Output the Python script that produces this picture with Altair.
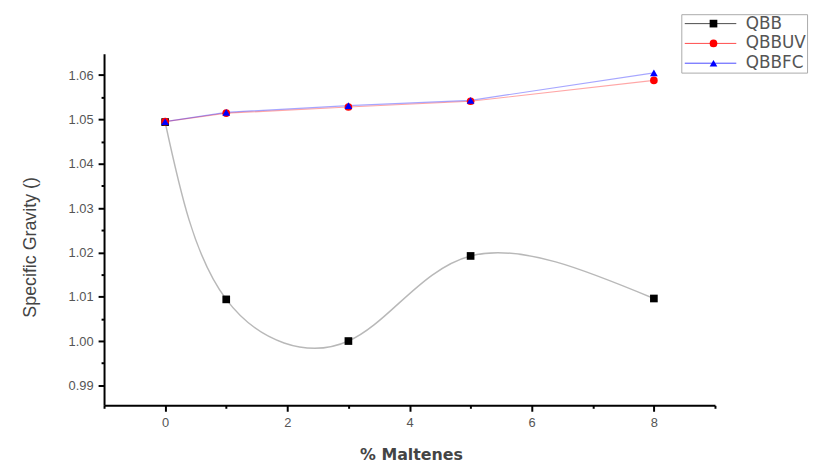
import altair as alt
import pandas as pd

x_vals = [0, 1, 3, 5, 8]
qbb = [1.0494, 1.0094, 1.0000, 1.0192, 1.0096]
qbbuv = [1.0495, 1.0514, 1.0528, 1.0541, 1.0588]
qbbfc = [1.0495, 1.0516, 1.0531, 1.0543, 1.0605]
series_names = ["QBB", "QBBUV", "QBBFC"]
series_colors = ["#000000", "#ff0000", "#0000ff"]
series_shapes = ["square", "circle", "triangle-up"]
x_tick_values = [-1, 0, 1, 2, 3, 4, 5, 6, 7, 8, 9]
y_tick_values = [0.99, 0.995, 1.00, 1.005, 1.01, 1.015, 1.02, 1.025, 1.03, 1.035,
                 1.04, 1.045, 1.05, 1.055, 1.06]

rows = []
for idx, (name, vals) in enumerate(zip(series_names, [qbb, qbbuv, qbbfc])):
    for xv, yv in zip(x_vals, vals):
        rows.append({"series": name, "series_p": name + " ", "rank": idx, "x": xv, "y": yv})
df = pd.DataFrame(rows)
point_names = [n + " " for n in series_names]

FONT = "Liberation Sans"

x_enc = alt.X(
    "x:Q",
    scale=alt.Scale(domain=[-1, 9], nice=False, zero=False),
    axis=alt.Axis(
        title="% Maltenes",
        values=x_tick_values,
        labelExpr="datum.value % 2 == 0 && datum.value >= 0 ? datum.label : ''",
        tickSize={"condition": {"test": "datum.value % 2 == 0", "value": 6}, "value": 3},
        grid=False,
        domainColor="#000",
        domainWidth=2,
        tickColor="#000",
        tickWidth=2,
        labelFont=FONT,
        labelFontSize=13,
        labelColor="#555",
        labelPadding=5,
        titleFont="DejaVu Sans",
        titleFontSize=16,
        titleFontWeight="bold",
        titleColor="#444",
        titlePadding=18,
        titleX=310,
    ),
)
y_enc = alt.Y(
    "y:Q",
    scale=alt.Scale(domain=[0.9855, 1.0648], nice=False, zero=False),
    axis=alt.Axis(
        title="Specific Gravity ()",
        values=y_tick_values,
        labelExpr="abs(datum.value*100 - round(datum.value*100)) < 0.001 ? format(datum.value, '.2f') : ''",
        tickSize={"condition": {"test": "abs(datum.value*100 - round(datum.value*100)) < 0.001", "value": 6}, "value": 3},
        grid=False,
        domainColor="#000",
        domainWidth=2,
        tickColor="#000",
        tickWidth=2,
        labelFont=FONT,
        labelFontSize=13,
        labelColor="#555",
        labelPadding=5,
        titleFont=FONT,
        titleFontSize=18,
        titleFontWeight="normal",
        titleColor="#444",
        titlePadding=29,
        titleY=195,
    ),
)

color_scale = alt.Scale(domain=series_names, range=series_colors)

line_legend = alt.Legend(
    title=None, orient="none", legendX=583, legendY=-40,
    symbolType="M-1,0H7.67", symbolSize=144, symbolStrokeWidth=1, symbolOpacity=0.7,
    symbolFillColor="transparent",
    labelFont="DejaVu Sans", labelFontSize=17, labelColor="#555",
    strokeColor="#aaa", padding=1, rowPadding=2, labelOffset=47,
)
point_legend = alt.Legend(
    title=None, orient="none", legendX=606, legendY=-40,
    symbolSize=60, symbolOpacity=1, labelExpr="''",
    labelFont="DejaVu Sans", labelFontSize=17,
    padding=1, rowPadding=2, labelOffset=47,
)

smooth = alt.Chart(df).transform_filter(alt.datum.series == "QBB").mark_line(
    interpolate="natural", strokeWidth=1.5, opacity=0.28
).encode(x=x_enc, y=y_enc, color=alt.Color("series:N", scale=color_scale, legend=line_legend))

straight = alt.Chart(df).transform_filter(alt.datum.series != "QBB").mark_line(
    strokeWidth=1.2, opacity=0.35
).encode(x=x_enc, y=y_enc, color=alt.Color("series:N", scale=color_scale, legend=line_legend),
         detail="series:N")

points = alt.Chart(df).mark_point(filled=True, size=60, opacity=1).encode(
    x=x_enc, y=y_enc,
    fill=alt.Fill("series_p:N", scale=alt.Scale(domain=point_names, range=series_colors), legend=point_legend),
    shape=alt.Shape("series_p:N", scale=alt.Scale(domain=point_names, range=series_shapes), legend=point_legend),
    order=alt.Order("rank:Q"),
)

chart = alt.layer(smooth, straight, points).properties(
    width=617, height=355,
    autosize=alt.AutoSizeParams(type="none"),
    padding={"left": 97, "top": 44, "right": 99, "bottom": 57},
    background="white",
).configure_view(stroke=None, strokeWidth=0)

chart.save("out.html", embed_options={"renderer": "svg", "actions": False})
